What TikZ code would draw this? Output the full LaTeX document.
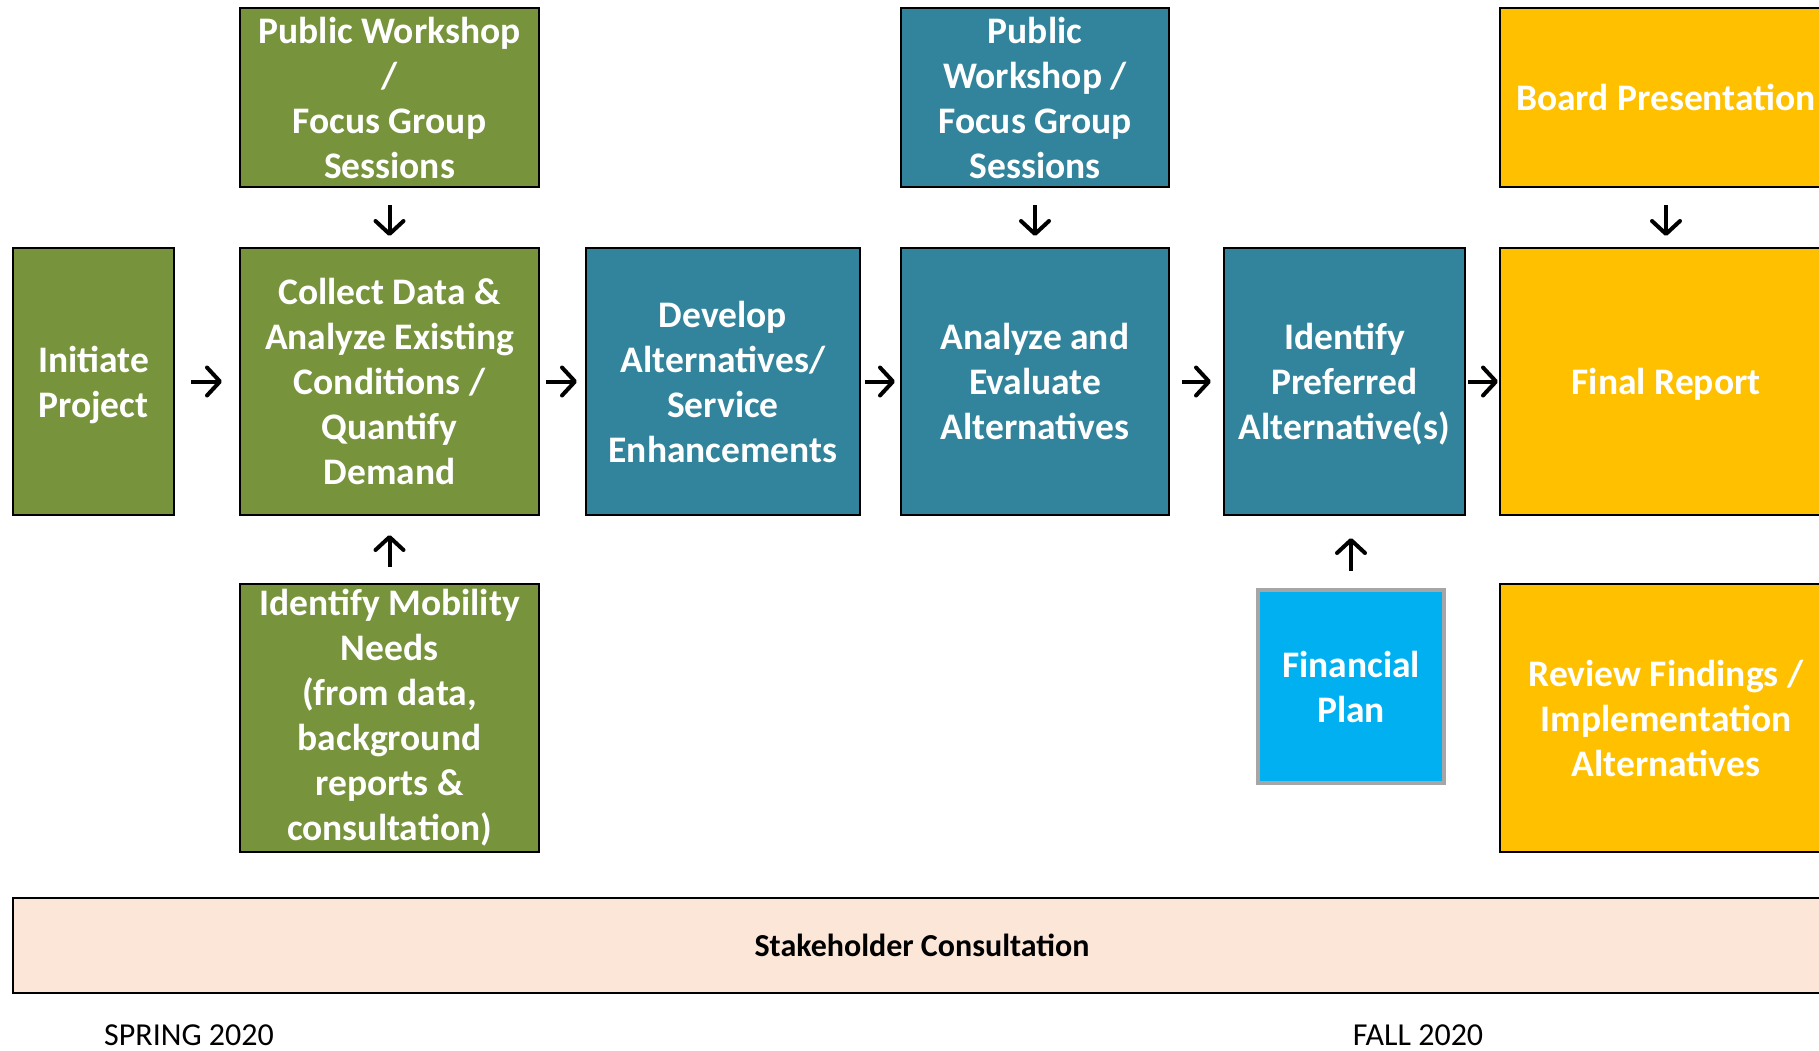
\documentclass[tikz,border=0pt]{standalone}
\usepackage{fontspec}
\setmainfont{Carlito}
\usetikzlibrary{arrows.meta}

\begin{document}
\begin{tikzpicture}[x=1pt, y=-1pt, >={Straight Barb[length=13pt, width=28pt, round]},
	box/.style={draw=black, line width=2pt, inner sep=0pt, align=center, text=white,
		font=\fontsize{37.5}{45}\selectfont\bfseries},
	flow/.style={->, line width=4pt, black}]
	\definecolor{olive}{HTML}{77933C}
	\definecolor{teal}{HTML}{31849B}
	\definecolor{gold}{HTML}{FFC000}
	\definecolor{cyanb}{HTML}{00B0F0}
	\definecolor{peach}{HTML}{FBE6D8}
	
	% 画布范围
	\clip (0,0) rectangle (1819,1051);
	
	% 第一阶段（绿色）
	\node[box, fill=olive, minimum width=299pt, minimum height=179pt] (pwa) at (389.5,97.5)
		{Public Workshop\\/\\Focus Group\\Sessions};
	\node[box, fill=olive, minimum width=161pt, minimum height=267pt, text depth=0pt] (init) at (93.5,381.5)
		{Initiate\\Project};
	\node[box, fill=olive, minimum width=299pt, minimum height=267pt] (collect) at (389.5,381.5)
		{Collect Data \&\\Analyze Existing\\Conditions /\\Quantify\\Demand};
	\node[box, fill=olive, minimum width=299pt, minimum height=268pt] (needs) at (389.5,718)
		{Identify Mobility\\Needs\\(from data,\\background\\reports \&\\consultation)};
	
	% 第二阶段（蓝色）
	\node[box, fill=teal, minimum width=274pt, minimum height=267pt] (develop) at (723,381.5)
		{Develop\\Alternatives/\\Service\\Enhancements};
	\node[box, fill=teal, minimum width=268pt, minimum height=179pt] (pwb) at (1035,97.5)
		{Public\\Workshop /\\Focus Group\\Sessions};
	\node[box, fill=teal, minimum width=268pt, minimum height=267pt] (analyze) at (1035,381.5)
		{Analyze and\\Evaluate\\Alternatives};
	\node[box, fill=teal, minimum width=241pt, minimum height=267pt, text depth=0pt] (prefer) at (1344.5,381.5)
		{Identify\\Preferred\\Alternative(s)};
	\node[box, fill=cyanb, draw=black!35, line width=4pt, minimum width=186pt, minimum height=193pt]
		(plan) at (1351,686.5) {Financial\\Plan};
	
	% 第三阶段（黄色）
	\node[box, fill=gold, minimum width=332pt, minimum height=179pt] (board) at (1666,97.5)
		{Board Presentation};
	\node[box, fill=gold, minimum width=332pt, minimum height=267pt, text depth=0pt] (final) at (1666,381.5)
		{Final Report};
	\node[box, fill=gold, minimum width=332pt, minimum height=268pt] (review) at (1666,718)
		{Review Findings /\\Implementation\\Alternatives};
	
	% 底部横条与时间
	\node[draw=black, line width=2pt, fill=peach, minimum width=1818pt, minimum height=95pt,
		font=\fontsize{32}{38}\selectfont\bfseries] (stake) at (922,945.5) {Stakeholder Consultation};
	\node[anchor=base, font=\fontsize{32}{38}\selectfont] (spring) at (189,1045) {SPRING 2020};
	\node[anchor=base, font=\fontsize{32}{38}\selectfont] (fall) at (1418,1045) {FALL 2020};
	
	% 箭头
	\draw[flow, shorten <=16pt, shorten >=17pt] (init) -- (collect);
	\draw[flow, shorten <=6pt, shorten >=8pt] (collect) -- (develop);
	\draw[flow, shorten <=4pt, shorten >=5pt] (develop) -- (analyze);
	\draw[flow, shorten <=12pt, shorten >=12pt] (analyze) -- (prefer);
	\draw[flow, shorten <=2pt, shorten >=1pt] (prefer) -- (final);
	\draw[flow, shorten <=17pt, shorten >=11pt] (pwa) -- (collect);
	\draw[flow, shorten <=17pt, shorten >=11pt] (pwb) -- (analyze);
	\draw[flow, shorten <=17pt, shorten >=11pt] (board) -- (final);
	\draw[flow, shorten <=16pt, shorten >=19pt] (needs) -- (collect);
	\draw[flow, shorten <=17pt, shorten >=22pt] (plan.north) -- (plan.north |- prefer.south);
\end{tikzpicture}
\end{document}
